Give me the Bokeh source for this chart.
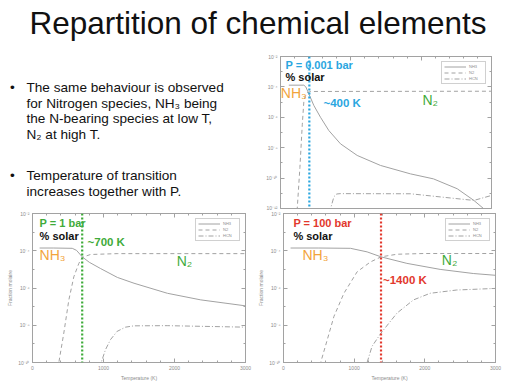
from bokeh.plotting import figure
from bokeh.layouts import column, row
from bokeh.models import (Range1d, FixedTicker, CustomJSTickFormatter, Span, Label,
                          LinearAxis, LogAxis)
from bokeh.core.properties import value
from bokeh.embed import file_html
from bokeh.resources import INLINE

# ------------------------------------------------------------------ data
title_text = "Repartition of chemical elements"
bullet1 = ["The same behaviour is observed",
           "for Nitrogen species, NH\u2083 being",
           "the N-bearing species at low T,",
           "N\u2082 at high T."]
bullet2 = ["Temperature of transition",
           "increases together with P."]

species = ["NH3", "N2", "HCN"]

x_major = [0, 1000, 2000, 3000]
x_minor = [0, 200, 400, 600, 800, 1000, 1200, 1400, 1600, 1800, 2000,
           2200, 2400, 2600, 2800, 3000]
y_major_top = [1e-12, 1e-10, 1e-8, 1e-6, 1e-4, 1e-2]
y_minor_top = [1e-11, 1e-9, 1e-7, 1e-5, 1e-3]
y_major_bot = [1e-10, 1e-8, 1e-6, 1e-4, 1e-2]
y_minor_bot = [1e-9, 1e-7, 1e-5, 1e-3]

# P = 0.001 bar
t_nh3_a = [118, 332, 360, 403, 474, 569, 687, 853, 1090, 1422, 1848, 2175, 2512, 2749, 2886, 2950]
x_nh3_a = [1.3e-4, 1.3e-4, 1.0e-4, 3.5e-5, 6.0e-6, 1.0e-6, 1.35e-7, 1.8e-8, 3.1e-9, 6.8e-10,
           1.9e-10, 8.9e-11, 2.0e-11, 3.4e-12, 1.0e-12, 4.0e-13]
t_n2_a = [230, 238, 276, 310, 333, 371, 429, 3000]
x_n2_a = [2.5e-13, 1.0e-12, 5.0e-10, 3.5e-7, 1.26e-5, 4.0e-5, 5.0e-5, 5.2e-5]
t_hcn_a = [700, 711, 760, 800, 850, 1848, 2300, 2749, 3000]
x_hcn_a = [5e-13, 9.5e-13, 6e-12, 9.0e-12, 9.5e-12, 9.3e-12, 5.6e-12, 3.4e-12, 7.2e-12]

# P = 1 bar
t_nh3_b = [100, 300, 560, 620, 700, 800, 960, 1195, 1430, 1900, 2370, 3000]
x_nh3_b = [1.4e-4, 1.4e-4, 1.35e-4, 1.05e-4, 4.7e-5, 2.4e-5, 1.1e-5, 3.7e-6, 1.8e-6,
           5.2e-7, 2.3e-7, 1.1e-7]
t_n2_b = [350, 371, 441, 512, 582, 653, 700, 817, 1192, 3000]
x_n2_b = [2e-11, 1e-10, 3.8e-9, 2.3e-7, 4.0e-6, 2.1e-5, 4.4e-5, 6.3e-5, 7.0e-5, 7.0e-5]
t_hcn_b = [950, 967, 1028, 1099, 1192, 1310, 1427, 1897, 3000]
x_hcn_b = [5e-11, 1e-10, 4.9e-10, 1.7e-9, 4.7e-9, 7.9e-9, 9.3e-9, 9.5e-9, 7.9e-9]

# P = 100 bar
t_nh3_c = [100, 500, 948, 1183, 1380, 1746, 2216, 2685, 3000]
x_nh3_c = [1.4e-4, 1.4e-4, 1.35e-4, 8.7e-5, 4.7e-5, 2.1e-5, 1.0e-5, 6.0e-6, 4.8e-6]
t_n2_c = [500, 526, 620, 714, 855, 1042, 1230, 1380, 1606, 1981, 3000]
x_n2_c = [3e-11, 1e-10, 1.7e-9, 3.0e-8, 5.2e-7, 7.4e-6, 2.5e-5, 4.7e-5, 6.5e-5, 7.1e-5, 7.1e-5]
t_hcn_c = [1160, 1183, 1253, 1380, 1606, 1840, 2075, 2451, 3000]
x_hcn_c = [3e-11, 1e-10, 7.4e-10, 3.8e-9, 4.5e-8, 2.3e-7, 5.2e-7, 7.8e-7, 9.5e-7]

pressures = ["P = 0.001 bar", "P = 1 bar", "P = 100 bar"]
t_transition = [410, 700, 1380]
transition_labels = ["~400 K", "~700 K", "~1400 K"]

# ------------------------------------------------------------------ style
FONT = "Liberation Sans"
GRAY = "#a2a2a2"
LGRAY = "#8c8c8c"
ORANGE = "#f2a43c"
GREEN = "#3fab3a"
BLUE = "#2aa6df"
RED = "#e2382d"
DASH = {"NH3": "solid", "N2": "4 3", "HCN": "5 2 1 2"}

SUP_JS = """
const sup = {'-':'\u207b','0':'\u2070','1':'\u00b9','2':'\u00b2','3':'\u00b3','4':'\u2074',
             '5':'\u2075','6':'\u2076','7':'\u2077','8':'\u2078','9':'\u2079'};
const e = Math.round(Math.log10(tick));
return '10' + String(e).split('').map(c => sup[c]).join('');
"""


def style_axis(ax):
    ax.major_tick_in = 4
    ax.major_tick_out = 0
    ax.minor_tick_in = 2
    ax.minor_tick_out = 0
    ax.axis_line_color = GRAY
    ax.major_tick_line_color = GRAY
    ax.minor_tick_line_color = GRAY
    ax.major_label_text_font = FONT
    ax.major_label_text_font_size = "5px"
    ax.major_label_text_color = LGRAY
    ax.major_label_standoff = 3
    ax.axis_label_text_font = FONT
    ax.axis_label_text_font_size = "5px"
    ax.axis_label_text_font_style = "normal"
    ax.axis_label_text_color = LGRAY
    ax.axis_label_standoff = 2


def make_plot(width, height, y_lo, y_hi, y_major, y_minor, borders, curves,
              t_tr, tr_color, show_x=True, ylabel=True):
    left, right, top, bottom = borders
    p = figure(width=width, height=height, x_range=Range1d(0, 3000),
               y_range=Range1d(y_lo, y_hi), y_axis_type="log",
               output_backend="svg", toolbar_location=None,
               min_border_left=left, min_border_right=right,
               min_border_top=top, min_border_bottom=bottom,
               outline_line_color=GRAY, outline_line_width=1,
               background_fill_color="white", border_fill_color="white")
    p.grid.visible = False
    xt = FixedTicker(ticks=x_major, minor_ticks=x_minor)
    yt = FixedTicker(ticks=y_major, minor_ticks=y_minor)
    p.xaxis.ticker = xt
    p.yaxis.ticker = yt
    p.yaxis.formatter = CustomJSTickFormatter(code=SUP_JS)
    for ax in p.xaxis + p.yaxis:
        style_axis(ax)
    if show_x:
        p.xaxis.axis_label = "Temperature (K)"
    else:
        p.xaxis.visible = False
    if ylabel:
        p.yaxis.axis_label = "Fraction molaire"

    ya = LogAxis(ticker=yt, formatter=CustomJSTickFormatter(code="return ''"))
    xa = LinearAxis(ticker=xt, formatter=CustomJSTickFormatter(code="return ''"))
    for ax in (ya, xa):
        style_axis(ax)
        ax.major_label_text_font_size = "1px"
        ax.major_label_standoff = 0
    p.add_layout(ya, "right")
    p.add_layout(xa, "above")

    for name, (t, x) in zip(species, curves):
        p.line(t, x, line_color=GRAY, line_width=1, line_dash=DASH[name],
               legend_label=name)

    p.add_layout(Span(location=t_tr, dimension="height", line_color=tr_color,
                      line_dash="2 2", line_width=2.2))

    lg = p.legend[0]
    lg.location = "top_right"
    lg.label_text_font = FONT
    lg.label_text_font_size = "4px"
    lg.label_text_color = LGRAY
    lg.label_height = 4
    lg.label_width = 14
    lg.label_standoff = 3
    lg.glyph_height = 5
    lg.glyph_width = 22
    lg.spacing = 1
    lg.padding = 2
    lg.margin = 5
    lg.border_line_color = GRAY
    lg.border_line_width = 1
    return p


def add_label(p, x, y, text, color, size, bold=False):
    p.add_layout(Label(x=x, y=y, text=text, text_color=color, text_font=FONT,
                       text_font_size=size, text_font_style="bold" if bold else "normal",
                       text_baseline="middle", text_align="left"))


def blank_figure(w, h, top=0, bottom=0):
    # the frame of a blank panel is aligned with its neighbour's frame in a row,
    # so its range covers exactly the frame's pixel span
    f = figure(width=w, height=h, x_range=Range1d(0, w), y_range=Range1d(h - bottom, top),
               output_backend="svg", toolbar_location=None, min_border=0,
               min_border_top=top, min_border_bottom=bottom,
               outline_line_color=None, x_axis_location=None, y_axis_location=None,
               title=None)
    f.grid.visible = False
    return f


# ------------------------------------------------------------------ title
tp = blank_figure(512, 48)
tp.text(x=[257.5], y=[22.5], text=[title_text], text_align="center",
        text_baseline="middle", text_font=value(FONT), text_font_size="31.5px",
        text_color="#111111")

# ------------------------------------------------------------------ bullets
bp = blank_figure(262, 162, top=8, bottom=2)
gap = 15.6
lines = bullet1 + bullet2
ys = [39 + i * gap for i in range(len(bullet1))] + \
     [127.3 + i * gap for i in range(len(bullet2))]
bp.text(x=[26] * len(lines), y=ys, text=lines, text_font=value(FONT),
        text_font_size="13.6px", text_baseline="middle", text_color="#111111")
bp.text(x=[9.5, 9.5], y=[ys[0], ys[len(bullet1)]], text=["\u2022", "\u2022"],
        text_font=value(FONT), text_font_size="13.6px", text_baseline="middle",
        text_color="#111111")

# ------------------------------------------------------------------ plots
pa = make_plot(250, 162, 1e-12, 1e-2, y_major_top, y_minor_top, (18, 21, 8, 2),
               [(t_nh3_a, x_nh3_a), (t_n2_a, x_n2_a), (t_hcn_a, x_hcn_a)],
               t_transition[0], BLUE, show_x=False, ylabel=False)
add_label(pa, 71, 2.95e-3, pressures[0], BLUE, "11px", True)
add_label(pa, 71, 4.2e-4, "% solar", "#111111", "11px", True)
add_label(pa, 5, 3.7e-5, "NH\u2083", ORANGE, "14px")
add_label(pa, 611, 8.1e-6, transition_labels[0], BLUE, "11.5px", True)
add_label(pa, 2019, 1.3e-5, "N\u2082", GREEN, "14px")

pb = make_plot(255, 173, 1e-10, 1e-2, y_major_bot, y_minor_bot, (32, 10, 3, 20),
               [(t_nh3_b, x_nh3_b), (t_n2_b, x_n2_b), (t_hcn_b, x_hcn_b)],
               t_transition[1], GREEN)
add_label(pb, 100, 2.95e-3, pressures[1], GREEN, "11px", True)
add_label(pb, 100, 5.9e-4, "% solar", "#111111", "11px", True)
add_label(pb, 775, 2.8e-4, transition_labels[1], GREEN, "11.5px", True)
add_label(pb, 100, 5.8e-5, "NH\u2083", ORANGE, "14px")
add_label(pb, 2030, 2.75e-5, "N\u2082", GREEN, "14px")

pc = make_plot(257, 173, 1e-10, 1e-2, y_major_bot, y_minor_bot, (25, 17, 3, 20),
               [(t_nh3_c, x_nh3_c), (t_n2_c, x_n2_c), (t_hcn_c, x_hcn_c)],
               t_transition[2], RED)
add_label(pc, 140, 2.95e-3, pressures[2], RED, "11px", True)
add_label(pc, 140, 5.9e-4, "% solar", "#111111", "11px", True)
add_label(pc, 268, 5.8e-5, "NH\u2083", ORANGE, "14px")
add_label(pc, 2240, 3.1e-5, "N\u2082", GREEN, "14px")
add_label(pc, 1408, 2.7e-6, transition_labels[2], RED, "11.5px", True)

layout = column(tp, row(bp, pa), row(pb, pc))

with open("out.html", "w", encoding="utf-8") as f:
    f.write(file_html(layout, INLINE))
